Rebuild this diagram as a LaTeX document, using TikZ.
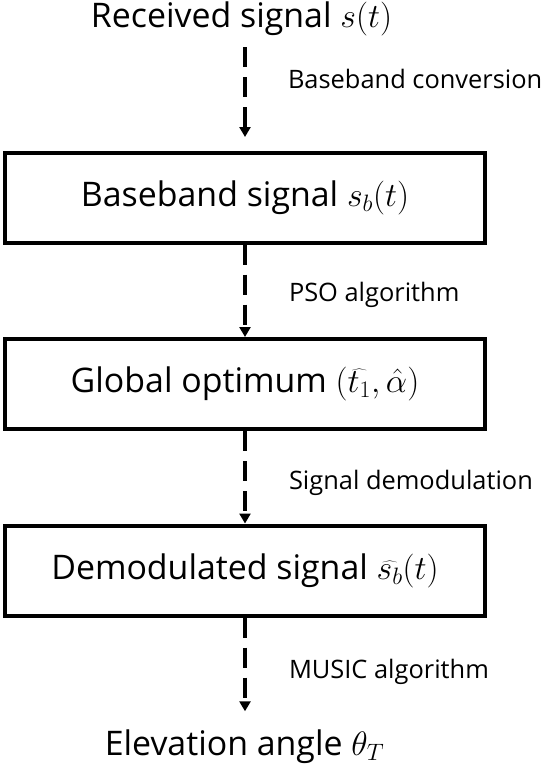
\RequirePackage{fix-cm}
\documentclass[tikz,border=0pt]{standalone}
\usepackage{fontspec}
\setmainfont{Open Sans}
\usetikzlibrary{arrows.meta}
\begin{document}
\begin{tikzpicture}[x=1bp,y=-1bp,
  box/.style={draw, line width=4bp, minimum width=480bp, minimum height=90bp, inner sep=0pt, font=\fontsize{34}{40}\selectfont},
  big/.style={inner sep=0pt, outer sep=0pt, font=\fontsize{34}{40}\selectfont},
  lab/.style={inner sep=0pt, outer sep=0pt, anchor=base west, font=\fontsize{25.5}{30}\selectfont},
  arr/.style={line width=4bp, dash pattern=on 20bp off 10bp, -{Triangle[width=11bp,length=10bp]}}]
\useasboundingbox (0,0) rectangle (549,765);
\node[big, anchor=base] (title) at (241.5,28) {Received signal $s(t)$};
\node[box] (b1) at (245,197.5) {Baseband signal $s_b(t)$};
\node[box] (b2) at (245,384) {Global optimum $(\widehat{t_1},\hat{\alpha})$};
\node[box] (b3) at (245,570.5) {Demodulated signal $\widehat{s_b}(t)$};
\node[big, anchor=base] (out) at (244.5,755) {Elevation angle $\theta_T$};
\draw[arr, shorten <=11bp, shorten >=13.5bp] (b1.north |- title.south) -- (b1.north);
\draw[arr] (b1.south) -- (b2.north);
\draw[arr] (b2.south) -- (b3.north);
\draw[arr, shorten >=18bp] (b3.south) -- (b3.south |- out.north);
\node[lab] (l1) at (288,88) {Baseband conversion};
\node[lab] (l2) at (289,301) {PSO algorithm};
\node[lab] (l3) at (289,489) {Signal demodulation};
\node[lab] (l4) at (289,678) {MUSIC algorithm};
\end{tikzpicture}
\end{document}
